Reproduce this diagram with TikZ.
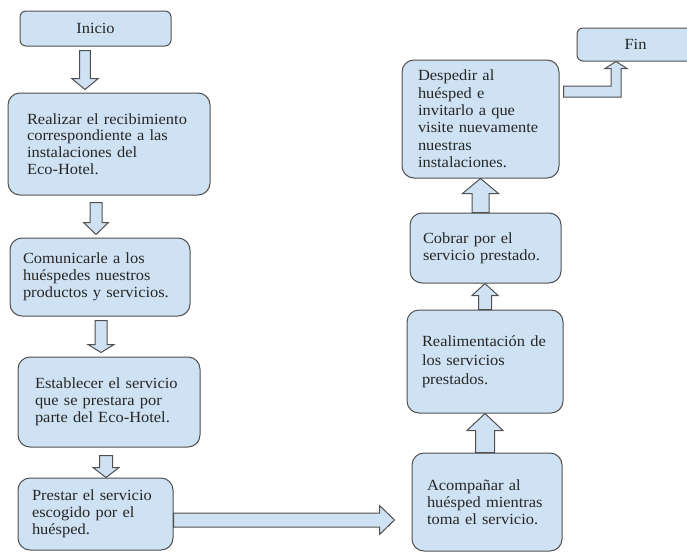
\documentclass[tikz,border=0pt]{standalone}
\usepackage{fontspec}
\setmainfont{Liberation Serif}[FakeStretch=1.06]
\usetikzlibrary{calc}

\definecolor{celeste}{HTML}{CFE2F3}
\definecolor{borde}{HTML}{505050}
\definecolor{letra}{HTML}{262626}

\tikzset{
  caja/.style={draw=borde, fill=celeste, line width=1pt, rounded corners=12pt,
    align=left, inner ysep=2pt, text=letra,
    font=\fontsize{15.5}{16.8}\selectfont},
  extremo/.style={caja, align=center, rounded corners=6pt},
  flecha/.style={draw=borde, fill=celeste, line width=1pt, line join=miter},
  bajar/.style n args={3}{flecha, to path={
    ([xshift=-#1]\tikztostart) -- ([xshift=-#1, yshift=#3]\tikztotarget)
    -- ([xshift=-#2, yshift=#3]\tikztotarget) -- (\tikztotarget)
    -- ([xshift=#2, yshift=#3]\tikztotarget) -- ([xshift=#1, yshift=#3]\tikztotarget)
    -- ([xshift=#1]\tikztostart) -- cycle}},
  subir/.style n args={3}{flecha, to path={
    ([xshift=-#1]\tikztostart) -- ([xshift=-#1, yshift=-#3]\tikztotarget)
    -- ([xshift=-#2, yshift=-#3]\tikztotarget) -- (\tikztotarget)
    -- ([xshift=#2, yshift=-#3]\tikztotarget) -- ([xshift=#1, yshift=-#3]\tikztotarget)
    -- ([xshift=#1]\tikztostart) -- cycle}},
  derecha/.style n args={3}{flecha, to path={
    ([yshift=#1]\tikztostart) -- ([yshift=#1, xshift=-#3]\tikztotarget)
    -- ([yshift=#2, xshift=-#3]\tikztotarget) -- (\tikztotarget)
    -- ([yshift=-#2, xshift=-#3]\tikztotarget) -- ([yshift=-#1, xshift=-#3]\tikztotarget)
    -- ([yshift=-#1]\tikztostart) -- cycle}}
}

\begin{document}
\begin{tikzpicture}[x=1pt, y=-1pt]

\useasboundingbox (0,0) rectangle (687,552);

% columna izquierda
\node[extremo, minimum width=151pt, minimum height=35pt] (inicio) at (95.5,28.5) {Inicio};

\node[caja, text width=164pt, inner xsep=19pt, minimum height=102pt] (realizar) at (109,144)
  {Realizar el recibimiento\\ correspondiente a las\\ instalaciones del\\ Eco-Hotel.};

\node[caja, text width=154pt, inner xsep=13pt, minimum height=78pt] (comunica) at (100,277)
  {Comunicarle a los\\ huéspedes nuestros\\ productos y servicios.};

\node[caja, text width=148pt, inner xsep=17pt, minimum height=90pt] (establece) at (109,402)
  {Establecer el servicio\\ que se prestara por\\ parte del Eco-Hotel.};

\node[caja, text width=127pt, inner xsep=14pt, minimum height=72pt] (presta) at (95.5,514)
  {Prestar el servicio\\ escogido por el\\ huésped.};

% columna derecha
\node[caja, text width=120pt, inner xsep=15pt, minimum height=98pt] (acompana) at (487,502)
  {Acompañar al\\ huésped mientras\\ toma el servicio.};

\node[caja, text width=126pt, inner xsep=15pt, minimum height=103pt,
  font=\fontsize{15.5}{18.8}\selectfont] (realim) at (485,361.5)
  {Realimentación de\\ los servicios\\ prestados.};

\node[caja, text width=125pt, inner xsep=13pt, minimum height=70pt] (cobra) at (485.5,248)
  {Cobrar por el\\ servicio prestado.};

\node[caja, text width=125pt, inner xsep=16pt, minimum height=118pt,
  font=\fontsize{15.5}{17.4}\selectfont] (despide) at (480.5,119)
  {Despedir al\\ huésped e\\ invitarlo a que\\ visite nuevamente\\ nuestras\\ instalaciones.};

\node[extremo, minimum width=117pt, minimum height=33pt] (fin) at (635.5,44.5) {Fin};

% flechas
\coordinate (f1i) at ([xshift=-10.5pt, yshift=-4pt]inicio.south);
\coordinate (f1f) at ([yshift=3pt]f1i |- realizar.north);
\draw[bajar={5.3pt}{13.3pt}{11pt}] (f1i) to (f1f);

\coordinate (f2i) at ([xshift=-13pt, yshift=-7pt]realizar.south);
\coordinate (f2f) at ([yshift=3pt]f2i |- comunica.north);
\draw[bajar={6pt}{12.5pt}{12pt}] (f2i) to (f2f);

\coordinate (f3i) at ([xshift=1pt, yshift=-4pt]comunica.south);
\coordinate (f3f) at ([yshift=4pt]f3i |- establece.north);
\draw[bajar={6pt}{13pt}{8pt}] (f3i) to (f3f);

\coordinate (f4i) at ([xshift=-3pt, yshift=-8pt]establece.south);
\coordinate (f4f) at (f4i |- presta.north);
\draw[bajar={6.5pt}{13pt}{10pt}] (f4i) to (f4f);

\coordinate (f5i) at ([yshift=-6pt]presta.east);
\coordinate (f5f) at ([xshift=-17pt]f5i -| acompana.west);
\draw[derecha={7pt}{14.5pt}{15pt}] (f5i) to (f5f);

\coordinate (f6i) at ([xshift=-2pt]acompana.north);
\coordinate (f6f) at (f6i |- realim.south);
\draw[subir={9.5pt}{18pt}{17pt}] (f6i) to (f6f);

\coordinate (f7i) at (realim.north);
\coordinate (f7f) at (f7i |- cobra.south);
\draw[subir={6.5pt}{13pt}{12pt}] (f7i) to (f7f);

\coordinate (f8i) at ([xshift=-5pt]cobra.north);
\coordinate (f8f) at (f8i |- despide.south);
\draw[subir={8.5pt}{18pt}{15pt}] (f8i) to (f8f);

% flecha en codo hacia Fin
\coordinate (f9i) at ([xshift=4pt, yshift=27.5pt]despide.east);
\coordinate (f9f) at ([xshift=-19.5pt]fin.south);
\coordinate (f9c) at (f9f |- f9i);
\draw[flecha] ([yshift=5.5pt]f9i) -- ([xshift=-5pt, yshift=5.5pt]f9c)
  -- ([xshift=-5pt, yshift=-7pt]f9f) -- ([xshift=-11pt, yshift=-7pt]f9f) -- (f9f)
  -- ([xshift=11pt, yshift=-7pt]f9f) -- ([xshift=5pt, yshift=-7pt]f9f)
  -- ([xshift=5pt, yshift=-5.5pt]f9c) -- ([yshift=-5.5pt]f9i) -- cycle;

\end{tikzpicture}
\end{document}
